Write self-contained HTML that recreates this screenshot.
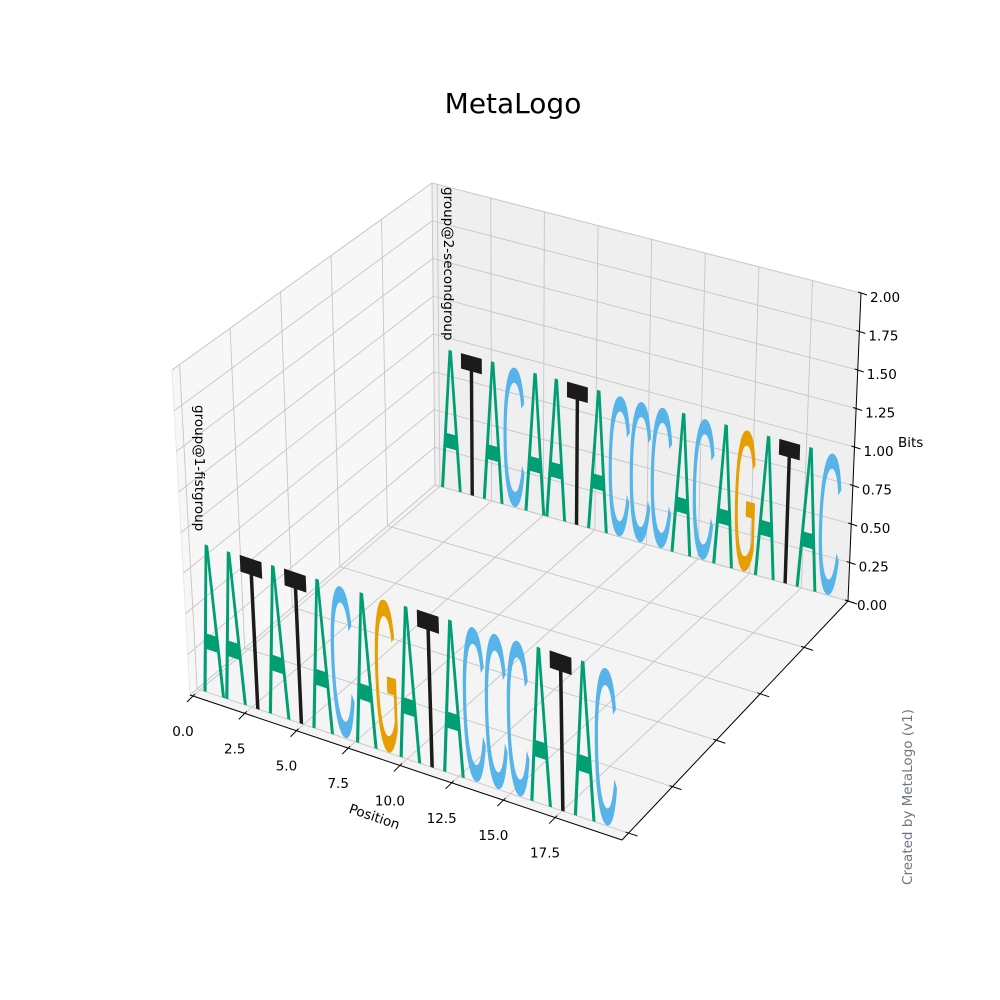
<!DOCTYPE html>
<html><head><meta charset="utf-8"><style>
html,body{margin:0;padding:0;background:#fff;}
svg{display:block;font-family:"DejaVu Sans","Liberation Sans",sans-serif;}
</style></head><body>
<svg id="chart" width="1000" height="1000" viewBox="0 0 1000 1000" xmlns="http://www.w3.org/2000/svg">
<rect width="1000" height="1000" fill="#fff"/>
<text x="513" y="113" font-size="28" text-anchor="middle">MetaLogo</text>
<text transform="translate(912,797) rotate(-90)" font-size="13.5" fill="#6e7680" text-anchor="middle">Created by MetaLogo (v1)</text>
<g id="panes"></g><g id="grid"></g><g id="axes"></g><g id="logos"></g><g id="labels"></g>
</svg>
<script>
const group1Seq = ["A","A","T","A","T","A","C","A","G","A","T","A","C","C","C","A","T","A","C"];
const group2Seq = ["A","T","A","C","A","A","T","A","C","C","C","A","C","A","G","A","T","A","C"];
const group1Heights = [0.96,0.96,0.96,0.96,0.96,0.96,0.96,0.96,0.96,0.96,0.96,0.96,0.96,0.96,0.96,0.96,0.96,0.96,0.96];
const group2Heights = [0.96,0.96,0.96,0.96,0.96,0.96,0.96,0.96,0.96,0.96,0.96,0.96,0.96,0.96,0.96,0.96,0.96,0.96,0.96];
const groupNames = ["group@1-fistgroup","group@2-secondgroup"];
const groupY = [0, 1];
const xTicks = [0,2.5,5,7.5,10,12.5,15,17.5];
const xTickLabels = ["0.0","2.5","5.0","7.5","10.0","12.5","15.0","17.5"];
const yTicks = [0,0.2,0.4,0.6,0.8,1.0];
const zTicks = [0,0.25,0.5,0.75,1,1.25,1.5,1.75,2];
const zTickLabels = ["0.00","0.25","0.50","0.75","1.00","1.25","1.50","1.75","2.00"];

const LETTER_START=0.05, LETTER_W=1.01;
const YMIN=-0.03, YMAX=1.0, ZMIN=0, ZMAX=2;
const XMIN_F=-0.146, XR_F=20.88, XMIN_B=-0.24, XR_B=20.0;
const K = {
 "000":[190,695],"100":[622,840],"110":[848,601],"010":[435,485],
 "001":[172,370],"101":[619,495],"111":[861,293],"011":[432,183]};
function T3(u,y,z){
 const v=(y-YMIN)/(YMAX-YMIN), w=(z-ZMIN)/(ZMAX-ZMIN);
 let X=0,Y=0;
 for(const a of [0,1])for(const b of [0,1])for(const c of [0,1]){
  const wt=(a?u:1-u)*(b?v:1-v)*(c?w:1-w); const p=K[""+a+b+c];
  X+=wt*p[0]; Y+=wt*p[1];}
 return [X,Y];
}
// axis/grid projection (perspective-ish x range)
function P(x,y,z){const v=(y-YMIN)/(YMAX-YMIN), xmin=XMIN_F+(XMIN_B-XMIN_F)*v, xr=XR_F+(XR_B-XR_F)*v;return T3((x-xmin)/xr,y,z);}
// letter projection
function PL(x,y,z){return T3((x-XMIN_B)/XR_B,y,z);}
function Pu(u,y,z){return T3(u,y,z);}
const NS="http://www.w3.org/2000/svg";
function mk(tag,attrs,parent){const e=document.createElementNS(NS,tag);for(const k in attrs)e.setAttribute(k,attrs[k]);parent.appendChild(e);return e;}
const panes=document.getElementById('panes'),grid=document.getElementById('grid'),axes=document.getElementById('axes'),logos=document.getElementById('logos'),labels=document.getElementById('labels');
function poly(pts,fill,name){const e=mk('polygon',{points:pts.map(p=>p.join(',')).join(' '),fill:fill,stroke:'#e9e9e9','stroke-width':1},panes);
 
 }
poly([Pu(0,YMIN,ZMIN),Pu(1,YMIN,ZMIN),Pu(1,YMAX,ZMIN),Pu(0,YMAX,ZMIN)],'#f4f4f4','floor-pane');
poly([Pu(0,YMIN,ZMIN),Pu(0,YMAX,ZMIN),Pu(0,YMAX,ZMAX),Pu(0,YMIN,ZMAX)],'#f7f7f7','left-pane');
poly([Pu(0,YMAX,ZMIN),Pu(1,YMAX,ZMIN),Pu(1,YMAX,ZMAX),Pu(0,YMAX,ZMAX)],'#efefef','back-pane');
function line(p,q,parent,stroke,sw,name){const e=mk('line',{x1:p[0],y1:p[1],x2:q[0],y2:q[1],stroke:stroke,'stroke-width':sw},parent);
 
 return e;}
const GC='#c6c6c6';
xTicks.forEach(t=>{line(P(t,YMIN,0),P(t,YMAX,0),grid,GC,0.9,'floor-x-gridline');line(P(t,YMAX,0),P(t,YMAX,ZMAX),grid,GC,0.9,'back-x-gridline');});
yTicks.forEach(t=>{line(Pu(0,t,0),Pu(1,t,0),grid,GC,0.9,'floor-y-gridline');line(Pu(0,t,0),Pu(0,t,ZMAX),grid,GC,0.9,'left-y-gridline');});
zTicks.forEach(t=>{line(Pu(0,YMIN,t),Pu(0,YMAX,t),grid,GC,0.9,'left-z-gridline');line(Pu(0,YMAX,t),Pu(1,YMAX,t),grid,GC,0.9,'back-z-gridline');});
line(Pu(0,YMIN,0),Pu(1,YMIN,0),axes,'#000',1,'x-axis-line');
line(Pu(1,YMIN,0),Pu(1,YMAX,0),axes,'#000',1,'y-axis-line');
line(Pu(1,YMAX,0),Pu(1,YMAX,ZMAX),axes,'#000',1,'z-axis-line');
xTicks.forEach((t,i)=>{const p=P(t,YMIN,0);line([p[0]+2,p[1]-2],[p[0]-6,p[1]+6],axes,'#000',1,'x-tick');
 const tx=mk('text',{x:p[0]-10,y:p[1]+40,'font-size':13.5,'text-anchor':'middle'},labels);tx.textContent=xTickLabels[i];
 
 });
yTicks.forEach(t=>{const p=Pu(1,t,0);line([p[0]-3,p[1]-1],[p[0]+9,p[1]+3],axes,'#000',1,'y-tick');});
zTicks.forEach((t,i)=>{const p=Pu(1,YMAX,t);line([p[0]-3,p[1]-1],[p[0]+6,p[1]+2],axes,'#000',1,'z-tick');
 const tx=mk('text',{x:p[0]+9,y:p[1]+9,'font-size':13.5},labels);tx.textContent=zTickLabels[i];
 
 });
const xl=mk('text',{transform:'translate(373,821) rotate(19)','font-size':13.5,'text-anchor':'middle'},labels);xl.textContent='Position';


const zl=mk('text',{x:898,y:447,'font-size':13.5},labels);zl.textContent='Bits';


const COL={A:'#009e73',C:'#56b4e9',G:'#e69f00',T:'#1b1b1b'};
const BB={A:[0,66.7,0,71.6],C:[5,68,-1.2,72.8],G:[4.5,73,-1.2,72.8],T:[2.3,58.9,0,71.6]};
function drawGroup(seq,hs,gy,name,labelPos){
 const g=mk('g',{},logos);
 
 
 seq.forEach((ch,i)=>{
  const x0=LETTER_START+i*LETTER_W, w=LETTER_W, h=hs[i];
  const p0=PL(x0,gy,0),p1=PL(x0+w,gy,0),p2=PL(x0,gy,h);
  const b=BB[ch],Wd=b[1]-b[0],Hd=b[3]-b[2],lyb=-b[2];
  const a=(p1[0]-p0[0])/Wd,bb=(p1[1]-p0[1])/Wd,c=-(p2[0]-p0[0])/Hd,d=-(p2[1]-p0[1])/Hd;
  const e=p0[0]-a*b[0]-c*lyb,f=p0[1]-bb*b[0]-d*lyb;
  const t=mk('text',{x:0,y:0,'font-size':100,'font-family':'"Liberation Sans",sans-serif',fill:COL[ch],transform:`matrix(${a},${bb},${c},${d},${e},${f})`},g);
  t.textContent=ch;
  
  
 });
 const lt=mk('text',{transform:`translate(${labelPos[0]},${labelPos[1]}) rotate(90)`,'font-size':13.5},labels);lt.textContent=name;
 
 
}
drawGroup(group2Seq,group2Heights,groupY[1],groupNames[1],[444,187]);
drawGroup(group1Seq,group1Heights,groupY[0],groupNames[0],[195,405]);
</script>
</body></html>
